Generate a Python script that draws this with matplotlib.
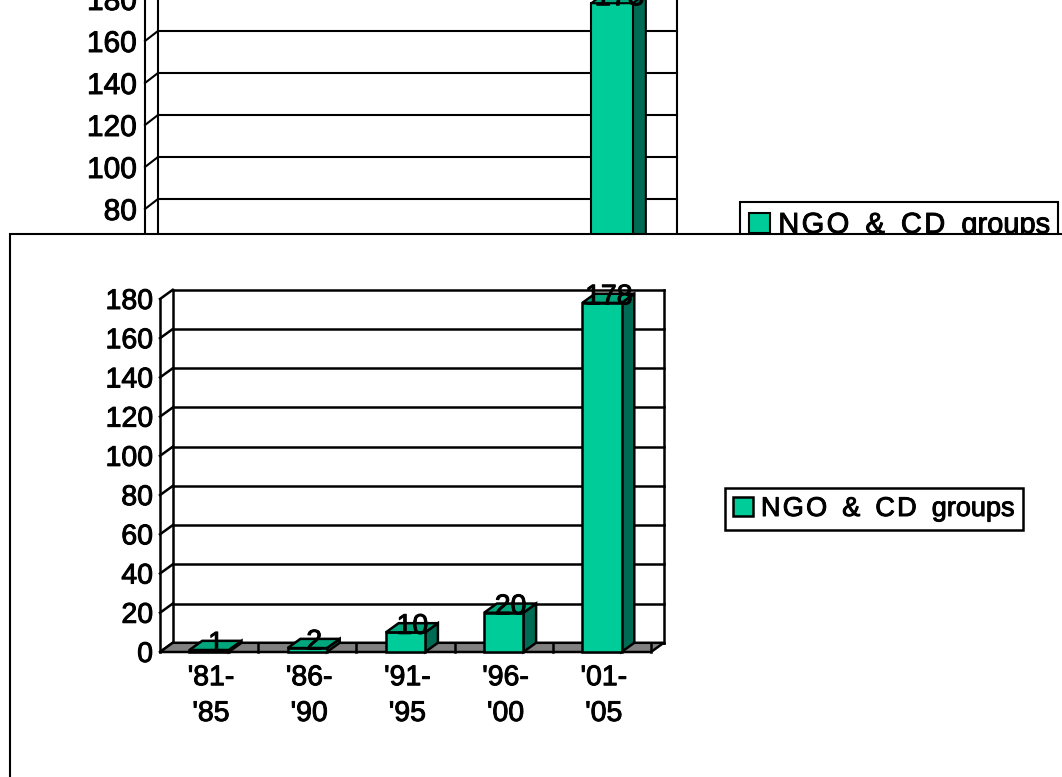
import matplotlib
matplotlib.use("Agg")
import matplotlib.pyplot as plt
import matplotlib.patheffects as pe
from matplotlib.patches import Patch, Rectangle

plt.rcParams['font.family'] = ['Liberation Sans', 'DejaVu Sans']

periods = ["'81-\n'85", "'86-\n'90", "'91-\n'95", "'96-\n'00", "'01-\n'05"]
groups = [1, 2, 10, 20, 178]
yticks = list(range(0, 181, 20))
legend_label = "N\u200aG\u200aO  &  C\u200aD  groups"

FRONT = '#00CC99'
SIDE = '#006B54'
TOP = '#00A67C'
FLOOR = '#808080'
W, H = 1062, 777
HEAVY = [pe.withStroke(linewidth=0.7, foreground='k')]  # reference text is aliased and heavy


def make_axes(left, right, y0, y180, z):
    # pixel box of the front plane of the fake 3d chart
    ax = fig.add_axes([left / W, 1 - y0 / H, (right - left) / W, (y0 - y180) / H], zorder=z)
    ax.set_xlim(0, 5)
    ax.set_ylim(0, 180)
    ax.patch.set_visible(False)
    for s in ax.spines.values():
        s.set_visible(False)
    return ax


def draw_chart(ax, dx, dy, fs, ypad, xpad, linesp, lw):
    n = len(groups)
    # walls and gridlines
    for v in yticks:
        ax.plot([dx, n + dx], [v + dy, v + dy], color='k', lw=lw, clip_on=False, zorder=1)
        ax.plot([0, dx], [v, v + dy], color='k', lw=lw, clip_on=False, zorder=1)
    ax.plot([0, 0], [0, 180], color='k', lw=lw, clip_on=False, zorder=1)
    ax.plot([dx, dx], [dy, 180 + dy], color='k', lw=lw, clip_on=False, zorder=1)
    ax.plot([n + dx, n + dx], [dy, 180 + dy], color='k', lw=lw, clip_on=False, zorder=1)
    # floor
    ax.fill([0, n, n + dx, dx], [0, 0, dy, dy], facecolor=FLOOR, edgecolor='k', lw=lw, clip_on=False, zorder=2)
    for i in range(1, n + 1):
        ax.plot([i, i], [0, dy * 0.85], color='k', lw=lw, clip_on=False, zorder=2)
    # bars
    w = 0.4
    for i, v in enumerate(groups):
        x0 = i + 0.5 - w / 2
        x1 = x0 + w
        ax.fill([x1, x1 + dx, x1 + dx, x1], [0, dy, v + dy, v], facecolor=SIDE, edgecolor='k', lw=lw, clip_on=False, zorder=3)
        ax.bar(i + 0.5, v, width=w, color=FRONT, edgecolor='k', lw=lw, clip_on=False, zorder=3)
        ax.fill([x0, x1, x1 + dx, x0 + dx], [v, v, v + dy, v + dy], facecolor=TOP, edgecolor='k', lw=lw, clip_on=False, zorder=3)
        ax.text(i + 0.57, v + dy * 0.6, str(v), ha='center', va='center', fontsize=fs, color='k',
                clip_on=False, zorder=4, path_effects=HEAVY)
    ax.set_xticks([i + 0.52 for i in range(n)])
    ax.set_xticklabels(periods, fontsize=fs, linespacing=linesp, path_effects=HEAVY)
    ax.set_yticks(yticks)
    ax.set_yticklabels([str(v) for v in yticks], fontsize=fs, path_effects=HEAVY)
    ax.tick_params(axis='x', length=0, pad=xpad)
    ax.tick_params(axis='y', length=0, pad=ypad)


def add_legend(ax, cx, cy, fs, lw):
    leg = ax.legend(handles=[Patch(facecolor=FRONT, edgecolor='k', lw=lw, label=legend_label)],
                    loc='center', bbox_to_anchor=(cx / W, 1 - cy / H), bbox_transform=fig.transFigure,
                    fontsize=fs, frameon=True, fancybox=False, edgecolor='k', framealpha=1,
                    handlelength=0.72, handleheight=0.72, handletextpad=0.3, borderpad=0.3)
    leg.get_frame().set_linewidth(lw)
    for t in leg.get_texts():
        t.set_path_effects(HEAVY)


fig = plt.figure(figsize=(W / 100, H / 100), dpi=100, facecolor='white')

# chart behind, mostly covered by the second slide panel
ax_back = make_axes(145, 664, 377, -1, 1)
draw_chart(ax_back, 0.125, 4.76, 21.5, 6, 6, 1.49, 1.5)
add_legend(ax_back, 899, 225, 20.9, 1.5)

# white panel on top
fig.add_artist(Rectangle((10 / W, -0.1), 1.2, 1.1 - 234 / H, transform=fig.transFigure,
                         facecolor='white', edgecolor='k', lw=1.5, zorder=2))

ax_front = make_axes(160, 651, 652, 299, 3)
draw_chart(ax_front, 0.13, 4.7, 20.5, 5, 9.5, 1.49, 1.8)
add_legend(ax_front, 874, 509, 19.5, 1.8)

fig.savefig('out.png', dpi=100)
